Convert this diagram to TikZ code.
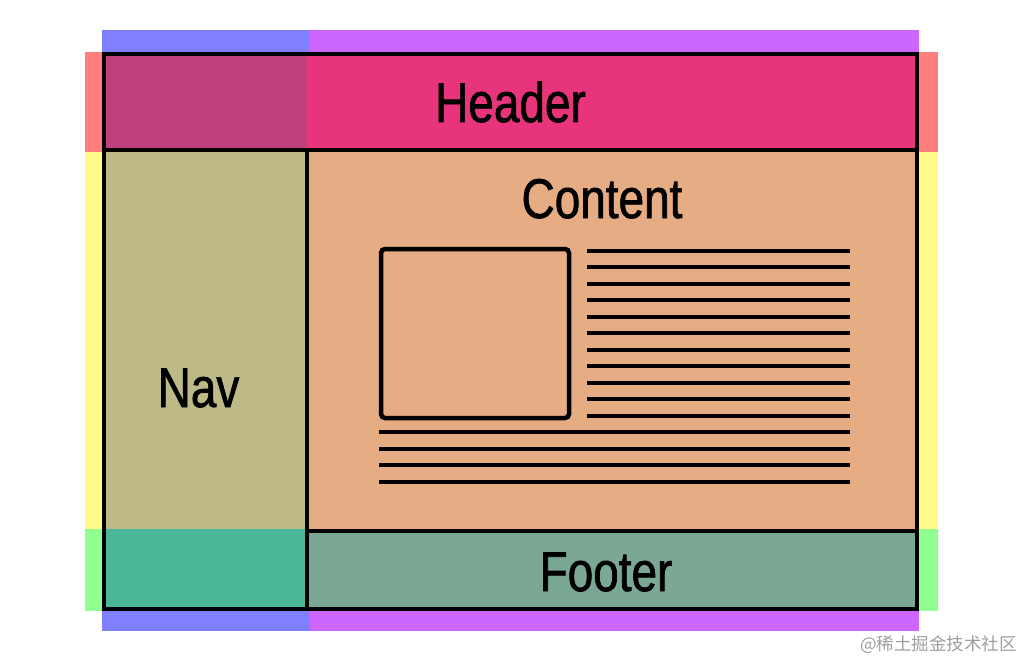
\documentclass[tikz,border=0pt]{standalone}
\usepackage{fontspec}
\newfontfamily\lblfont[FakeStretch=0.82,FakeBold=1.2]{Liberation Sans}
\newfontfamily\cjkfont{Noto Sans CJK SC}
\definecolor{trackblue}{HTML}{8080FF}
\definecolor{trackpurple}{HTML}{CC66FF}
\definecolor{trackred}{HTML}{FF7F7F}
\definecolor{trackyellow}{HTML}{FFFA88}
\definecolor{trackgreen}{HTML}{90FF90}
\definecolor{headerpink}{HTML}{E8347A}
\definecolor{headerleft}{HTML}{BF407A}
\definecolor{navcol}{HTML}{BDBA88}
\definecolor{contentcol}{HTML}{E6AC84}
\definecolor{footercol}{HTML}{7AA895}
\definecolor{cornercol}{HTML}{4AB898}
\tikzset{
  gridline/.style={line width=4.5pt, black},
  textline/.style={line width=4pt, black},
  lbl/.style={font=\lblfont\fontsize{56}{60}\selectfont, inner sep=0pt, anchor=base, text=black},
}
\begin{document}
\begin{tikzpicture}[x=1pt,y=-1pt]
\useasboundingbox (0,0) rectangle (1024,661);
% track bars
\fill[trackblue] (102,30) rectangle (309,52);
\fill[trackpurple] (309,30) rectangle (919,52);
\fill[trackblue] (102,611) rectangle (309,631);
\fill[trackpurple] (309,611) rectangle (919,631);
\fill[trackred] (85,52) rectangle (102,152);
\fill[trackyellow] (85,152) rectangle (102,529);
\fill[trackgreen] (85,529) rectangle (102,611);
\fill[trackred] (919,52) rectangle (938,152);
\fill[trackyellow] (919,152) rectangle (938,529);
\fill[trackgreen] (919,529) rectangle (938,611);
% areas
\fill[headerpink] (102,52) rectangle (919,152);
\fill[headerleft] (102,52) rectangle (307,152);
\fill[navcol] (102,152) rectangle (307,529);
\fill[cornercol] (102,529) rectangle (307,611);
\fill[contentcol] (307,152) rectangle (919,531);
\fill[footercol] (307,531) rectangle (919,611);
% grid lines
\draw[gridline] (104,54) rectangle (917,609);
\draw[gridline] (104,150) -- (917,150);
\draw[gridline] (307,150) -- (307,609);
\draw[gridline] (307,531) -- (917,531);
% labels
\node[lbl] (header) at (510.5,122) {Header};
\node[lbl] (content) at (602,218) {Content};
\node[lbl] (nav) at (198.5,407) {Nav};
\node[lbl] (footer) at (606,591) {Footer};
% picture placeholder
\draw[line width=4.5pt, rounded corners=4pt] (381,249) rectangle (569,418);
% text lines
\foreach \k in {0,...,10}{
  \draw[textline] (587,{250.7+16.5*\k}) -- (850,{250.7+16.5*\k});
}
\foreach \k in {11,...,14}{
  \draw[textline] (379,{250.7+16.5*\k}) -- (850,{250.7+16.5*\k});
}
% watermark
\node[font=\cjkfont\fontsize{17.5}{19}\selectfont, text=black!38, inner sep=0pt, anchor=base east] (mark) at (1017,650) {@稀土掘金技术社区};
\end{tikzpicture}
\end{document}
